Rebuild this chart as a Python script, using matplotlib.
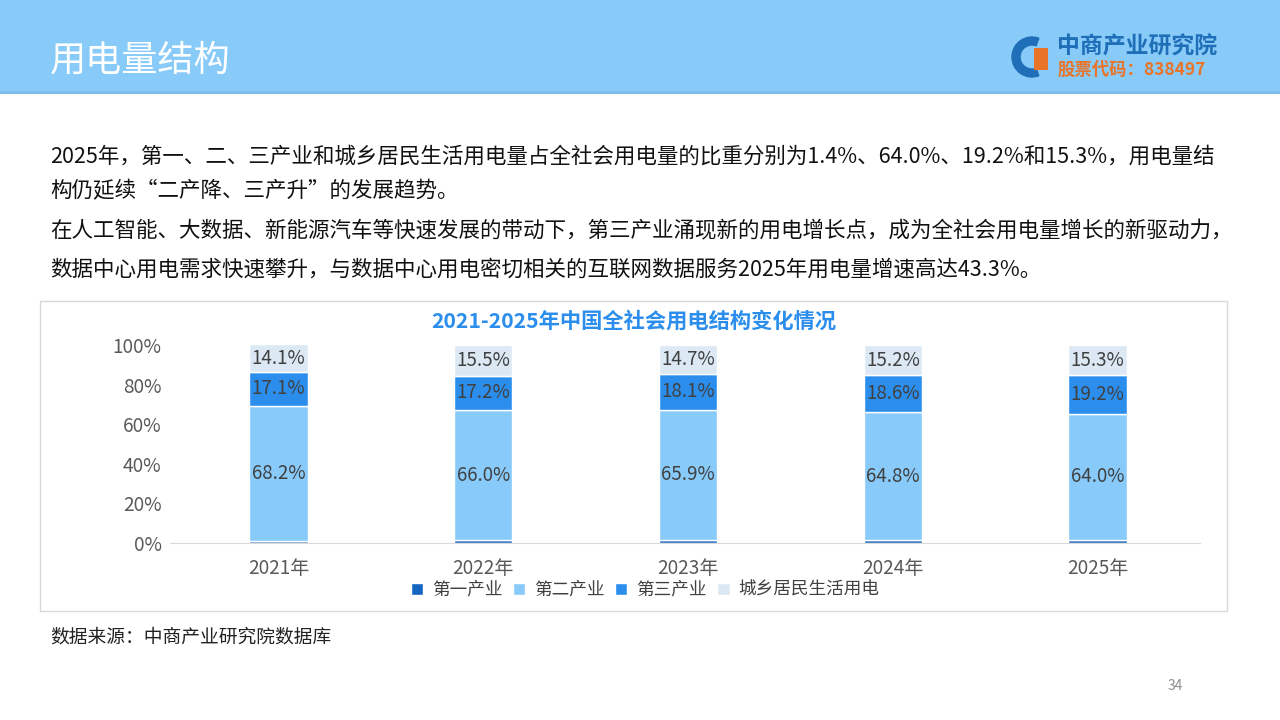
import matplotlib
matplotlib.use("Agg")
import matplotlib.pyplot as plt
from matplotlib.patches import Rectangle, Wedge

plt.rcParams["font.family"] = ["Noto Sans CJK SC", "DejaVu Sans"]

# ── data ──────────────────────────────────────────────────────────────────────
years = ["2021年", "2022年", "2023年", "2024年", "2025年"]
primary = [1.2, 1.3, 1.4, 1.4, 1.4]
secondary = [68.2, 66.0, 65.9, 64.8, 64.0]
tertiary = [17.1, 17.2, 18.1, 18.6, 19.2]
residential = [14.1, 15.5, 14.7, 15.2, 15.3]
series_names = ["第一产业", "第二产业", "第三产业", "城乡居民生活用电"]
yticks = [0, 20, 40, 60, 80, 100]

chart_title = "2021-2025年中国全社会用电结构变化情况"
page_title = "用电量结构"
body_lines = [
    "2025年，第一、二、三产业和城乡居民生活用电量占全社会用电量的比重分别为1.4%、64.0%、19.2%和15.3%，用电量结",
    "构仍延续“二产降、三产升”的发展趋势。",
    "在人工智能、大数据、新能源汽车等快速发展的带动下，第三产业涌现新的用电增长点，成为全社会用电量增长的新驱动力，",
    "数据中心用电需求快速攀升，与数据中心用电密切相关的互联网数据服务2025年用电量增速高达43.3%。",
]
source = "数据来源：中商产业研究院数据库"

colors = ["#1565C0", "#88CAF9", "#2B8EEC", "#DCE9F5"]
W, H = 1280, 720

fig = plt.figure(figsize=(12.8, 7.2), dpi=100)
fig.patch.set_facecolor("white")

# ── header band ───────────────────────────────────────────────────────────────
bg = fig.add_axes([0, 0, 1, 1], zorder=-1)
bg.set_xlim(0, W)
bg.set_ylim(H, 0)
bg.axis("off")
bg.add_patch(Rectangle((0, 0), W, 93, color="#88CBF9", lw=0))
bg.add_patch(Rectangle((0, 91), W, 3, color="#7BBDEB", lw=0))
bg.text(50, 60, page_title, color="white", fontsize=26, va="center", ha="left")

# logo
bg.add_patch(Wedge((1032, 57), 20, 70, 290, width=8, color="#1F6EB8"))
bg.add_patch(Rectangle((1034, 48), 14, 22, color="#E8742A", lw=0))
bg.text(1057, 47, "中商产业研究院", color="#1F6EB8", fontsize=16.5, fontweight="bold",
        va="center", ha="left")
bg.text(1058, 70, "股票代码：838497", color="#E8742A", fontsize=12.5, fontweight="bold",
        va="center", ha="left")

# body text
for y, line in zip([157, 191, 231, 270], body_lines):
    bg.text(50, y, line, color="#111111", fontsize=15.5, va="center", ha="left")

# chart frame
bg.add_patch(Rectangle((40, 301), 1187, 310, fill=False, ec="#D9D9D9", lw=1))
bg.text(634, 321, chart_title, color="#2B8EEC", fontsize=15.3, fontweight="bold",
        va="center", ha="center")

bg.text(50, 637, source, color="#222222", fontsize=13.5, va="center", ha="left")
bg.text(1175, 686, "34", color="#8C8C8C", fontsize=10, va="center", ha="center")

# ── stacked bars ──────────────────────────────────────────────────────────────
ax = fig.add_axes([170 / W, (H - 543) / H, 1030 / W, 198 / H])
x = list(range(len(years)))
bottom = [0.0] * len(years)
bars = []
for vals, c, name in zip([primary, secondary, tertiary, residential], colors, series_names):
    ax.bar(x, vals, width=0.285, bottom=bottom, color=c, label=name,
           edgecolor="white", linewidth=1)
    bars.append((vals, list(bottom)))
    bottom = [b0 + v for b0, v in zip(bottom, vals)]

for vals, base in bars[1:]:
    for xi, v, b0 in zip(x, vals, base):
        mid = min(b0 + v / 2, (b0 + 100) / 2)
        ax.text(xi, mid, f"{v:.1f}%", ha="center", va="center",
                fontsize=13.5, color="#404040")

ax.set_ylim(0, 100)
ax.set_xlim(-0.53, 4.5)
ax.set_yticks(yticks)
ax.set_yticklabels([f"{t}%" for t in yticks])
ax.set_xticks(x)
ax.set_xticklabels(years)
ax.tick_params(axis="both", length=0, labelsize=13.7, colors="#595959")
ax.tick_params(axis="y", pad=6)
ax.tick_params(axis="x", pad=11)
for s in ["top", "right", "left"]:
    ax.spines[s].set_visible(False)
ax.spines["bottom"].set_color("#D9D9D9")
ax.set_facecolor("none")

ax.legend(loc="center", bbox_to_anchor=(645 / W, (H - 590) / H),
          bbox_transform=fig.transFigure, ncol=4, frameon=False,
          fontsize=12.7, handlelength=0.7, handleheight=0.7, handletextpad=0.5,
          columnspacing=0.6, labelcolor="#404040")

fig.savefig("out.png", dpi=100)
